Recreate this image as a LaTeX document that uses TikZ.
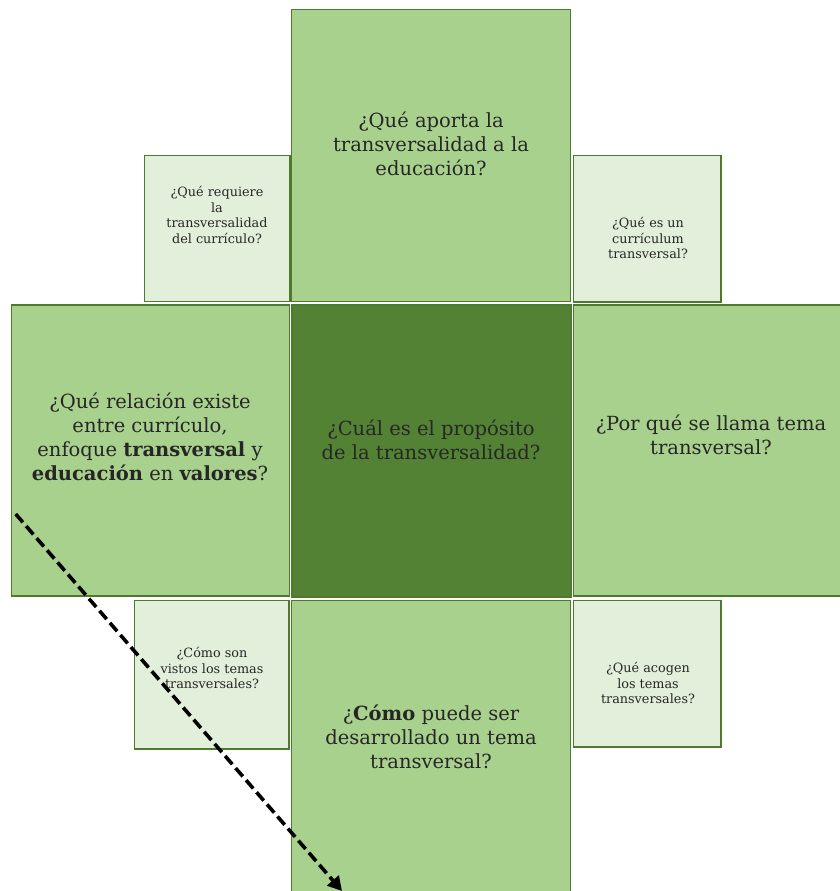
\documentclass[tikz,border=0pt]{standalone}
\usepackage{fontspec}
\setmainfont{DejaVu Serif}
\usetikzlibrary{arrows.meta}
\definecolor{leafmid}{HTML}{A9D18E}
\definecolor{leafdark}{HTML}{548235}
\definecolor{leaflight}{HTML}{E2EFDA}
\definecolor{leafline}{HTML}{4E7A30}
\definecolor{inktext}{HTML}{262626}
\tikzset{
  x=1pt, y=-1pt,
  panel/.style={draw=leafline, line width=1.1pt, inner sep=0pt, outer sep=0pt, rectangle},
  bigpanel/.style={panel, fill=leafmid},
  corepanel/.style={panel, fill=leafdark},
  smallpanel/.style={panel, fill=leaflight},
  bigtext/.style={align=center, text=inktext, font=\fontsize{19.5pt}{24pt}\selectfont, inner sep=0pt},
  smalltext/.style={align=center, text=inktext, font=\fontsize{12.8pt}{15.4pt}\selectfont, inner sep=0pt},
  flowarrow/.style={line width=3.6pt, dash pattern=on 11pt off 5pt, -{Triangle[length=14pt,width=15pt]}}
}
\begin{document}
\begin{tikzpicture}
\useasboundingbox (0,0) rectangle (840,891);
\clip (0,0) rectangle (840,891);
\fill[white] (0,0) rectangle (840,891);

% main cross of panels
\node[bigpanel, minimum width=279pt, minimum height=291.7pt] (top) at (431,155.2) {};
\node[bigpanel, minimum width=278pt, minimum height=291pt] (left) at (150.3,450.5) {};
\node[corepanel, minimum width=279pt, minimum height=292pt] (core) at (431.5,451) {};
\node[bigpanel, minimum width=276.3pt, minimum height=291pt] (right) at (711.85,450.5) {};
\node[bigpanel, minimum width=278.8pt, minimum height=299.5pt] (bottom) at (431.1,750.25) {};

% corner panels
\node[smallpanel, minimum width=145.3pt, minimum height=146pt] (tl) at (217.35,228.7) {};
\node[smallpanel, minimum width=147.3pt, minimum height=146.7pt] (tr) at (647.35,228.65) {};
\node[smallpanel, minimum width=154.7pt, minimum height=148.3pt] (bl) at (211.65,674.85) {};
\node[smallpanel, minimum width=147.3pt, minimum height=146.3pt] (br) at (647.35,673.85) {};

% questions
\node[bigtext] (toptxt) at (431,144) {¿Qué aporta la\\transversalidad a la\\educación?};
\node[bigtext] (lefttxt) at (150,436.5) {¿Qué relación existe\\entre currículo,\\enfoque \textbf{transversal} y\\\textbf{educación} en \textbf{valores}?};
\node[bigtext] (coretxt) at (431,440) {¿Cuál es el propósito\\de la transversalidad?};
\node[bigtext] (righttxt) at (711,435) {¿Por qué se llama tema\\transversal?};
\node[bigtext] (bottomtxt) at (431,737) {¿\textbf{Cómo} puede ser\\desarrollado un tema\\transversal?};

\node[smalltext] (tltxt) at (217,215) {¿Qué requiere\\la\\transversalidad\\del currículo?};
\node[smalltext] (trtxt) at (648,238) {¿Qué es un\\currículum\\transversal?};
\node[smalltext] (bltxt) at (212,668) {¿Cómo son\\vistos los temas\\transversales?};
\node[smalltext] (brtxt) at (648,683) {¿Qué acogen\\los temas\\transversales?};

% dashed pointer
\coordinate (arrowfrom) at (15.7,514);
\coordinate (arrowto) at (342,891);
\draw[flowarrow] (arrowfrom) -- (arrowto);
\end{tikzpicture}
\end{document}
